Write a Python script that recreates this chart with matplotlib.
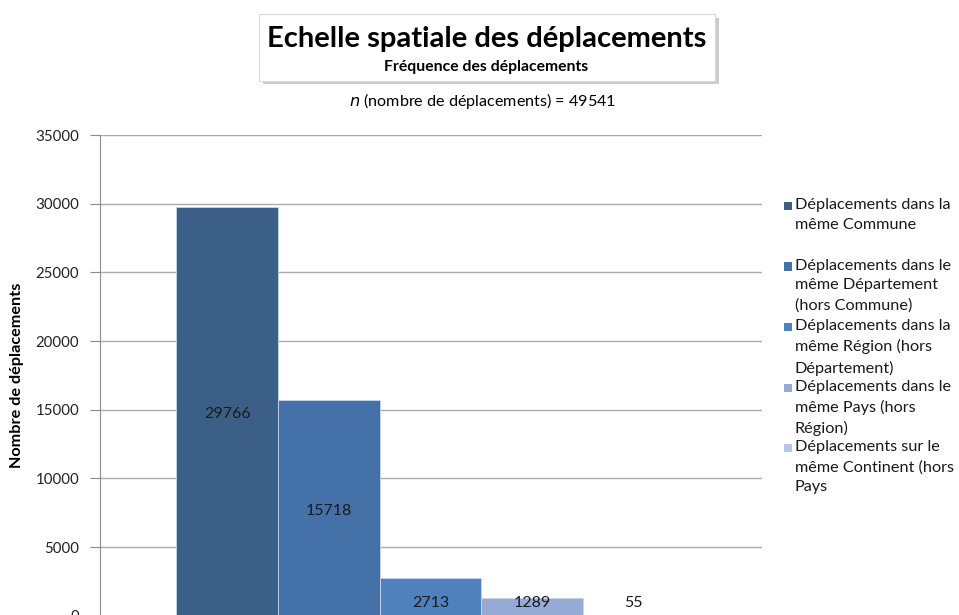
import matplotlib
matplotlib.use("Agg")
import matplotlib.pyplot as plt
from matplotlib.patches import Rectangle

plt.rcParams['font.family'] = ['Lato', 'DejaVu Sans']

# data
categories = [
    "Déplacements dans la\nmême Commune",
    "Déplacements dans le\nmême Département\n(hors Commune)",
    "Déplacements dans la\nmême Région (hors\nDépartement)",
    "Déplacements dans le\nmême Pays (hors\nRégion)",
    "Déplacements sur le\nmême Continent (hors\nPays",
]
values = [29766, 15718, 2713, 1289, 55]
colors = ["#3B5F87", "#4472A8", "#4F81BD", "#95AAD4", "#B9C6E3"]
yticks = [0, 5000, 10000, 15000, 20000, 25000, 30000, 35000]
total = 49541

W, H = 959, 615
fig = plt.figure(figsize=(W / 100, H / 100), dpi=100)

def fx(px):
    return px / W

def fy(py):
    return 1 - py / H

ax = fig.add_axes([fx(100), fy(615.7), fx(762) - fx(100), fy(135) - fy(615.7)])

xs = list(range(len(values)))
ax.bar(xs, values, width=1.0, align='edge', color=colors,
       edgecolor="#C9D5E6", linewidth=0.6, zorder=2)

for x, v in zip(xs, values):
    ly = v / 2 if v > 5000 else 1150
    ax.text(x + 0.5, ly - 200, str(v), ha='center', va='center',
            fontsize=11.5, color="#1a1a1a", zorder=3)

ax.set_xlim(-0.75, 5.76)
ax.set_ylim(0, 35000)
ax.set_yticks(yticks)
ax.set_yticklabels([str(t) for t in yticks], fontsize=10.8, color="#222222")
ax.set_xticks([])
ax.yaxis.grid(True, color="#ABABAB", linewidth=1.0, zorder=0)
ax.set_axisbelow(True)
for s in ['top', 'right', 'bottom']:
    ax.spines[s].set_visible(False)
ax.spines['left'].set_color("#8C8C8C")
ax.tick_params(axis='y', length=7, color="#8C8C8C", pad=8)

ax.set_ylabel("Nombre de déplacements", fontsize=11.7, fontweight='bold', labelpad=8)

# title box with shadow
fig.patches.append(Rectangle((fx(263), fy(84)), fx(715) - fx(259), fy(18) - fy(84),
                             transform=fig.transFigure, facecolor="#B5B5B5",
                             edgecolor='none', alpha=0.7, zorder=0))
fig.patches.append(Rectangle((fx(259), fy(81)), fx(715) - fx(259), fy(14) - fy(81),
                             transform=fig.transFigure, facecolor="white",
                             edgecolor="#D9D9D9", linewidth=0.8, zorder=1))
fig.text(fx(487), fy(38.5), "Echelle spatiale des déplacements", ha='center', va='center',
         fontsize=21, fontweight='bold', color="black", zorder=2)
fig.text(fx(486), fy(67), "Fréquence des déplacements", ha='center', va='center',
         fontsize=11.3, fontweight='bold', color="black", zorder=2)
fig.text(fx(482), fy(101), r"$\it{n}$ (nombre de déplacements) = " + str(total),
         ha='center', va='center', fontsize=11.6, color="black")

# legend
for i, (lab, c) in enumerate(zip(categories, colors)):
    ytop = 202 + 60.5 * i
    fig.patches.append(Rectangle((fx(784), fy(ytop + 8)), fx(8), fx(8) * W / H,
                                 transform=fig.transFigure, facecolor=c, edgecolor='none'))
    fig.text(fx(795), fy(ytop - 4), lab, ha='left', va='top', fontsize=11.7,
             color="#1a1a1a", linespacing=1.53)

fig.savefig("out.png", dpi=100)
